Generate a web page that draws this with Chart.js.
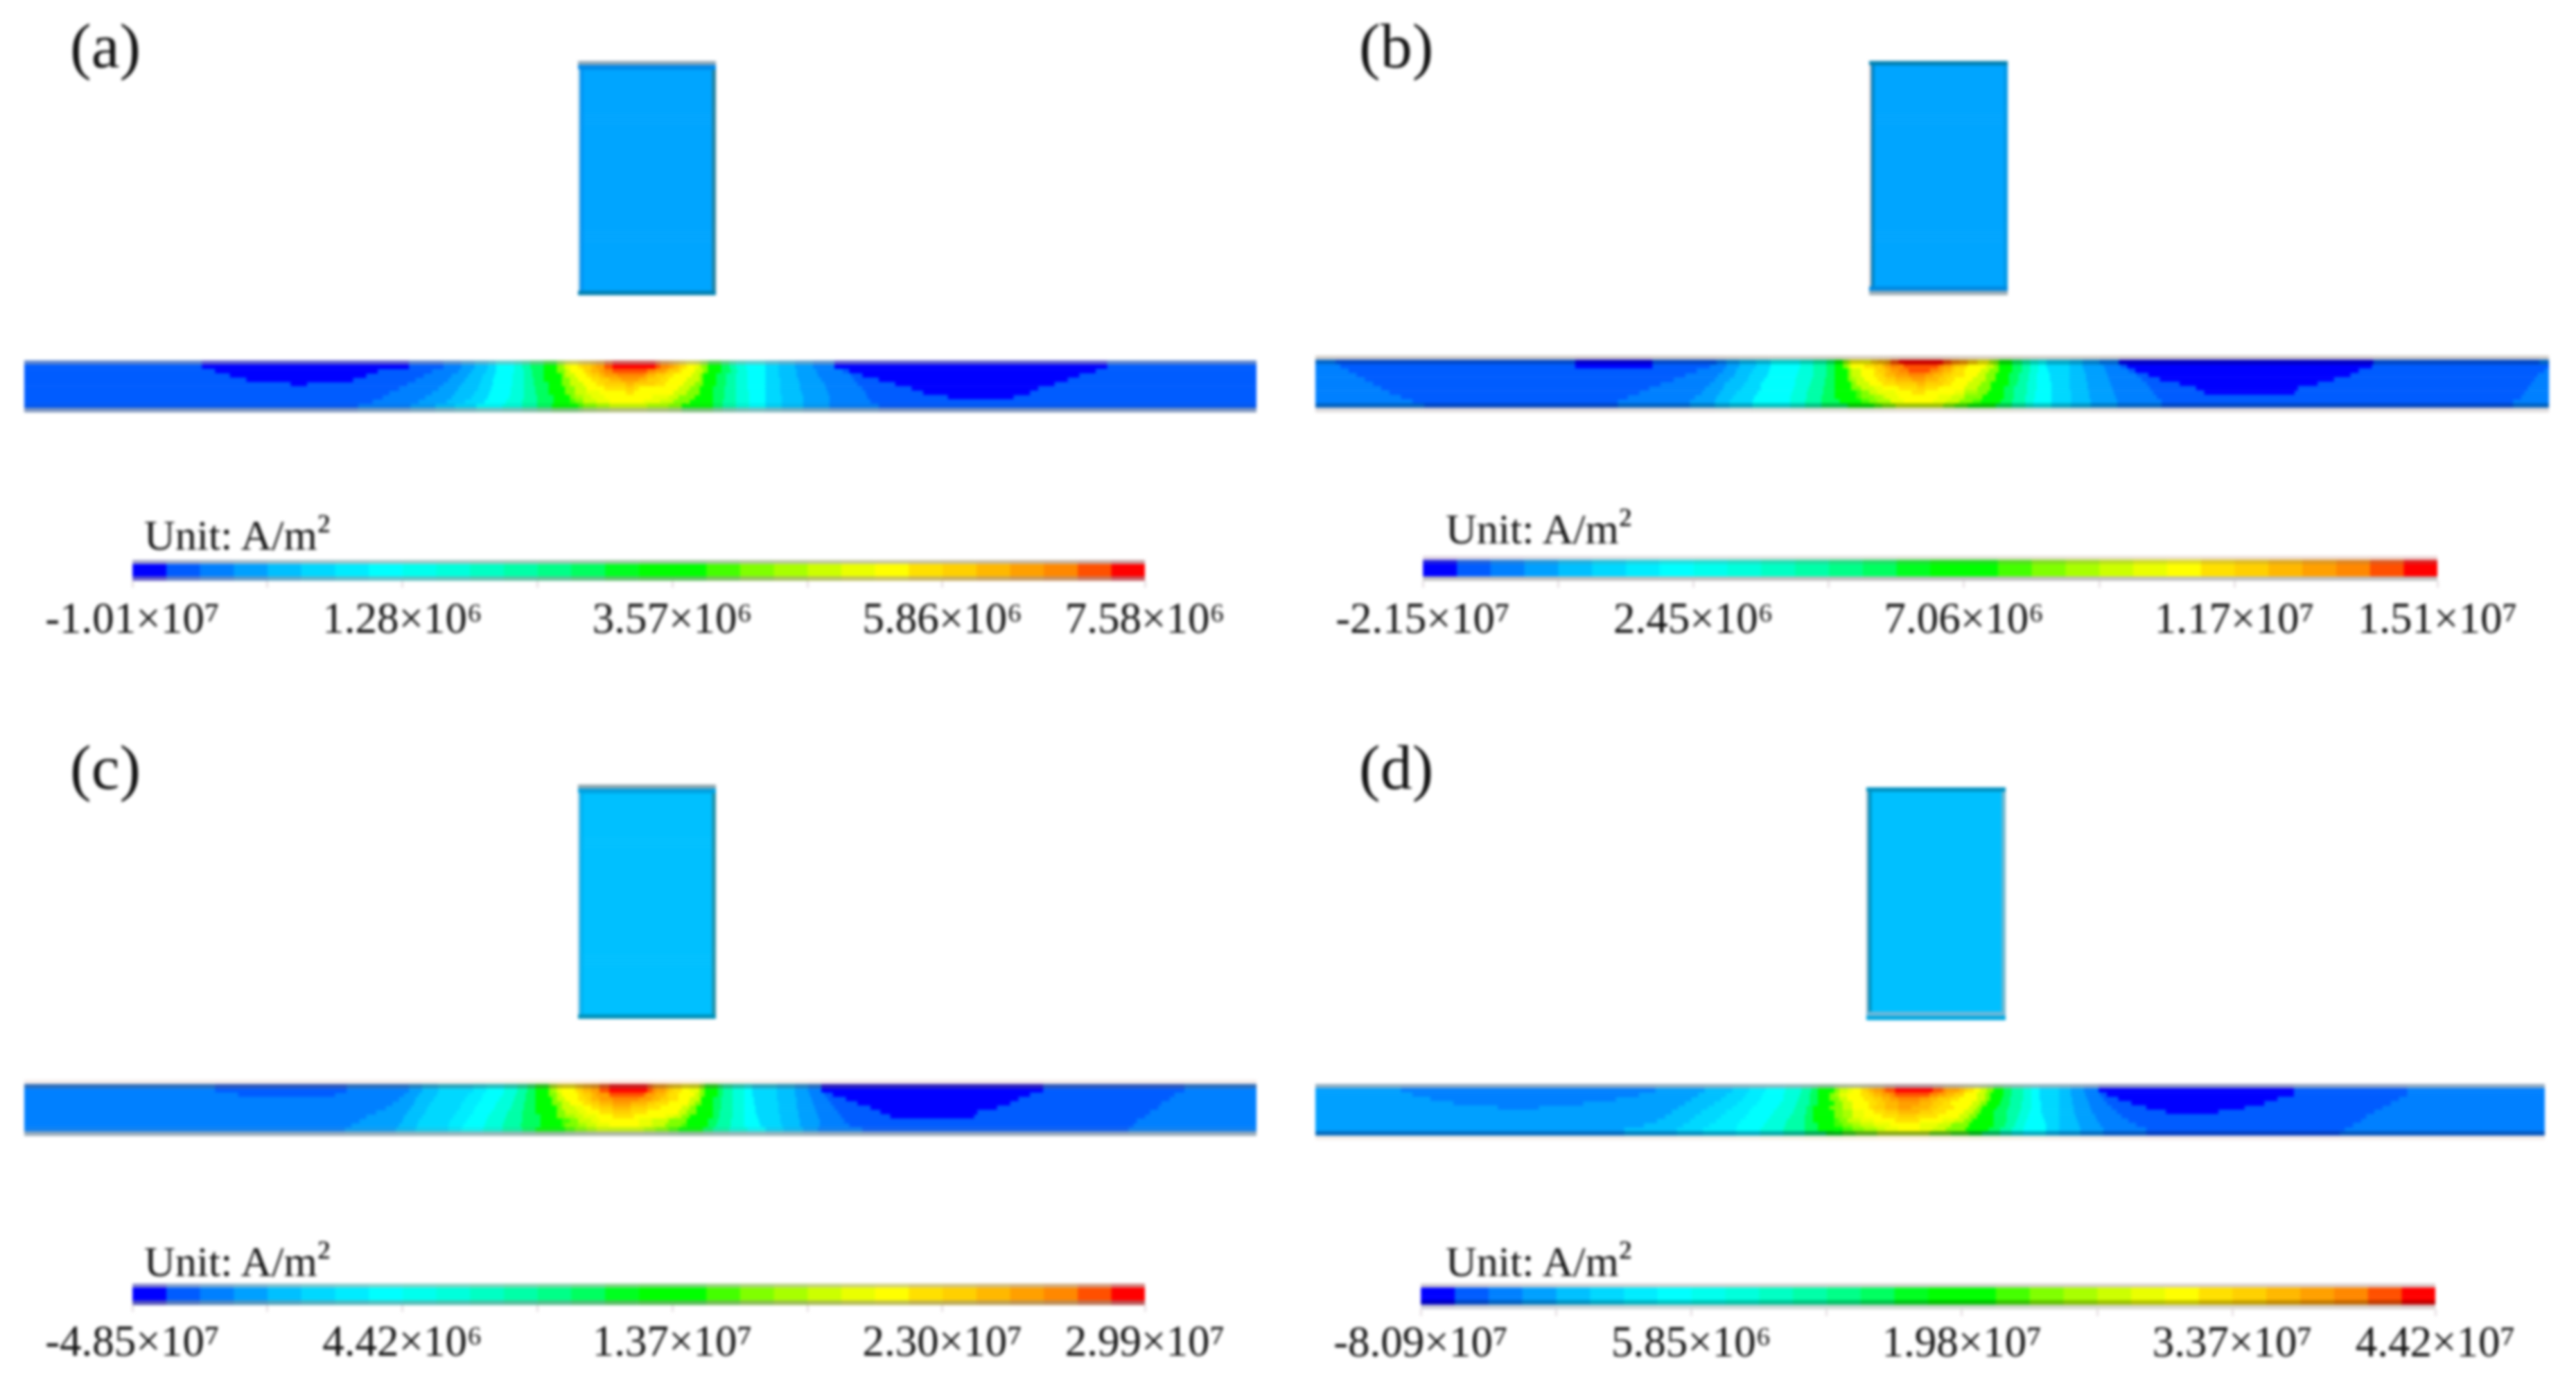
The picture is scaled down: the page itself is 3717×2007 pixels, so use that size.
<!DOCTYPE html>
<html><head><meta charset="utf-8">
<style>
html,body{margin:0;background:#fff;width:3717px;height:2007px;overflow:hidden}
#page{position:absolute;left:0;top:0;width:3717px;height:2007px;filter:blur(2px)}
canvas{position:absolute}
.t{position:absolute;font-family:"Liberation Serif",serif;color:#111;line-height:1;white-space:nowrap}
.t span{position:relative;top:-9px}
</style>
<script src="https://cdn.jsdelivr.net/npm/chart.js@4"></script>
</head><body><div id="page"></div>
<script>
// contour level colours, lowest to highest, as on the legend bars
const levelColors=['#0000ff','#005cff','#0080ff','#00a0ff','#00c0ff','#00d8ff','#00ecff','#00ffff','#00ffee','#00ffdc','#00ffc4','#00ffa8','#00ff88','#00ff60','#00ff20','#00ff00','#00ff00','#44ff00','#80ff00','#a8ff00','#ccff00','#eaff00','#ffff00','#ffe000','#ffd000','#ffb800','#ffa000','#ff8800','#ff5000','#ff0000'];
const legendLevels=[0,1,2,3,4,5,6,7,8,9,10,11,12,13,14,15,16,17,18,19,20,21,22,23,24,25,26,27,28,29];
const legendTicks=[0,4,8,12,16,20,24,30];
const legendLabelled=[0,8,16,24,30];
const labelsA=['-1.01×10⁷','1.28×10⁶','3.57×10⁶','5.86×10⁶','7.58×10⁶'];
const labelsB=['-2.15×10⁷','2.45×10⁶','7.06×10⁶','1.17×10⁷','1.51×10⁷'];
const labelsC=['-4.85×10⁷','4.42×10⁶','1.37×10⁷','2.30×10⁷','2.99×10⁷'];
const labelsD=['-8.09×10⁷','5.85×10⁶','1.98×10⁷','3.37×10⁷','4.42×10⁷'];
const panelNames=['(a)','(b)','(c)','(d)'];
const unitText='Unit: A/m';
const unitSup='²';

// plate rows: level, end of its run along the plate, level, end, ...
const a1=[1,108,0,234,1,255,2,266,3,274,4,282,5,287,7,298,9,303,11,308,13,316,15,324,18,327,19,329,21,332,22,337,23,340,24,345,25,348,26,353,28,358,29,384,28,387,27,392,26,395,25,398,24,400,23,403,22,408,21,411,19,413,18,416,15,424,13,429,11,433,9,439,7,451,5,459,4,469,3,480,2,493,0,659,1,750];
const a2=[1,116,0,215,1,248,2,264,3,272,4,281,5,287,7,298,9,304,11,309,13,316,15,324,18,329,20,332,22,340,23,342,24,345,25,350,26,353,27,358,28,379,27,384,26,390,25,392,24,398,23,400,22,408,20,413,18,416,15,424,13,430,11,434,9,440,7,451,5,459,4,470,3,482,2,498,1,502,0,652,1,750];
const a3=[1,125,0,208,1,243,2,260,3,270,4,279,5,286,7,297,9,304,11,309,13,316,15,327,18,329,20,335,22,342,23,345,24,350,25,353,26,361,27,377,26,379,25,384,24,390,23,395,22,406,20,411,18,413,15,421,13,427,11,433,9,440,7,451,5,459,4,470,3,483,2,503,1,510,0,642,1,750];
const a4=[1,135,0,200,1,238,2,258,3,268,4,278,5,285,7,297,9,304,11,310,13,316,15,327,18,332,20,337,22,345,23,350,24,356,25,363,26,374,25,379,24,387,23,392,22,403,20,411,18,413,15,421,13,427,11,433,9,440,7,451,5,460,4,471,3,485,2,505,1,520,0,635,1,750];
const a5=[1,162,0,172,1,233,2,255,3,266,4,277,5,285,7,297,9,304,11,310,13,319,15,327,18,332,20,340,22,348,23,353,24,366,25,371,24,384,23,390,22,401,20,408,18,413,15,421,13,427,11,433,9,440,7,451,5,460,4,472,3,487,2,507,1,530,0,627,1,750];
const a6=[1,228,2,252,3,264,4,276,5,284,7,296,9,304,11,311,13,319,15,329,18,335,20,342,22,353,23,366,24,371,23,374,22,398,20,405,18,411,15,419,13,426,11,433,9,440,7,451,5,460,4,472,3,488,2,510,1,540,0,617,1,750];
const a7=[1,222,2,248,3,262,4,274,5,283,7,296,9,304,11,311,13,319,15,329,18,335,20,342,21,350,22,366,23,371,22,395,20,403,18,411,15,419,13,426,11,433,9,441,7,451,5,460,4,473,3,489,2,512,1,547,0,612,1,750];
const a8=[1,218,2,244,3,260,4,272,5,282,7,295,9,304,11,312,13,322,15,332,18,335,19,340,20,345,21,353,22,382,21,392,20,398,18,408,15,419,13,426,11,433,9,441,7,451,5,461,4,474,3,490,2,513,1,562,0,602,1,750];
const a9=[1,212,2,240,3,257,4,268,5,280,7,293,9,303,11,312,13,322,15,332,17,335,18,340,20,348,21,356,22,377,21,387,20,395,18,405,15,419,13,425,11,433,9,441,7,451,5,461,4,474,3,490,2,515,1,750];
const a10=[1,203,2,235,3,250,4,262,5,275,7,291,9,303,11,312,13,321,15,335,16,337,17,340,18,348,19,356,20,379,19,392,18,400,16,403,15,419,13,425,11,433,9,441,7,451,5,461,4,474,3,490,2,520,1,750];

const b1=[2,12,1,158,0,205,1,244,2,250,3,258,4,268,5,277,7,295,9,303,11,311,13,316,15,321,18,324,20,326,22,338,24,342,25,347,26,350,28,355,29,382,28,387,27,392,26,397,24,403,22,410,19,413,18,416,15,424,13,430,11,435,9,440,7,445,5,459,4,467,3,477,2,489,0,644,1,745,2,751];
const b2=[2,15,1,158,0,205,1,240,2,250,3,258,4,268,5,277,7,295,9,303,11,311,13,316,15,321,18,324,20,326,22,334,23,340,24,345,25,347,26,350,27,358,28,379,27,382,26,387,25,389,24,395,23,397,22,408,20,413,18,416,15,424,13,430,11,435,9,440,7,445,5,459,4,467,3,480,2,490,1,494,0,643,1,751];
const b3=[2,20,1,232,2,248,3,256,4,266,5,276,7,294,9,303,11,311,13,316,15,324,18,326,20,332,22,340,23,342,24,347,25,350,26,355,27,361,28,374,27,379,26,382,25,387,24,389,23,395,22,405,20,410,18,416,15,424,13,430,11,435,9,440,7,446,5,459,4,468,3,481,2,495,1,499,0,635,1,748,2,751];
const b4=[2,25,1,225,2,245,3,255,4,264,5,275,7,293,9,303,11,311,13,316,15,324,18,326,20,332,22,340,23,345,24,347,25,353,26,361,27,371,26,376,25,382,24,387,23,395,22,403,20,408,18,414,15,422,13,428,11,434,9,439,7,447,5,459,4,469,3,482,2,500,1,507,0,630,1,744,2,751];
const b5=[2,30,1,218,2,243,3,252,4,263,5,273,7,292,9,302,11,310,13,316,15,324,18,326,19,329,20,334,22,342,23,347,24,353,25,363,26,371,25,379,24,384,23,389,22,400,20,408,18,414,15,422,13,428,11,434,9,439,7,447,5,459,4,469,3,483,2,503,1,514,0,620,1,742,2,751];
const b6=[2,35,1,210,2,240,3,249,4,261,5,271,7,292,9,301,11,310,13,316,15,326,18,329,20,337,22,345,23,353,24,366,25,371,24,382,23,387,22,397,20,405,18,411,15,422,13,427,11,433,9,439,7,448,5,459,4,470,3,484,2,506,1,526,0,610,1,740,2,751];
const b7=[2,40,1,203,2,237,3,248,4,259,5,271,7,291,9,300,11,309,13,316,15,326,18,332,20,340,21,345,22,355,23,366,24,371,23,379,22,395,20,403,18,411,15,419,13,425,11,433,9,439,7,448,5,459,4,470,3,485,2,508,1,536,0,598,1,738,2,751];
const b8=[2,45,1,197,2,235,3,246,4,256,5,269,7,290,9,299,11,309,13,316,15,329,17,332,18,337,20,342,21,353,22,363,23,371,22,389,21,395,19,403,18,409,15,419,13,425,11,433,9,438,7,448,5,460,4,471,3,486,2,510,1,541,0,596,1,736,2,751];
const b9=[2,52,1,190,2,231,3,244,4,254,5,267,7,289,9,299,11,308,13,316,15,329,17,332,18,340,19,345,20,347,21,355,22,379,21,387,20,395,18,406,15,419,13,425,11,432,9,438,7,448,5,460,4,471,3,487,2,512,1,734,2,751];
const b10=[2,59,1,184,2,228,3,243,4,252,5,266,7,289,9,298,11,308,13,319,15,329,16,332,17,337,18,342,19,350,21,358,22,376,21,384,20,392,18,400,17,405,15,417,13,424,11,432,9,437,7,448,5,460,4,472,3,488,2,515,1,729,2,751];
const b11=[2,66,1,184,2,228,3,243,4,252,5,266,7,289,9,298,11,308,13,324,15,332,16,340,17,345,18,353,20,382,18,389,17,397,16,403,15,414,13,424,11,432,9,437,7,448,5,460,4,472,3,488,2,515,1,729,2,751];

const c2=[2,116,1,196,2,234,3,242,4,252,5,273,6,281,7,292,9,300,11,306,13,311,15,319,18,321,19,324,21,327,22,335,23,337,24,340,25,345,26,350,28,356,29,379,28,382,27,384,26,390,25,392,24,395,23,400,22,405,21,411,18,414,15,422,13,425,11,431,9,438,7,443,5,458,4,469,3,477,2,485,0,620,1,706,2,750];
const c3=[2,130,1,189,2,231,3,240,4,251,5,270,6,279,7,291,9,299,11,305,13,311,15,319,18,324,20,327,22,337,23,340,24,345,25,348,26,356,28,377,27,379,26,384,25,390,24,392,23,398,22,408,20,411,18,414,15,422,13,425,11,431,9,438,7,443,5,458,4,469,3,478,2,487,1,492,0,612,1,700,2,750];
const c4=[2,228,3,238,4,249,5,268,6,278,7,289,9,298,11,305,13,311,15,321,18,324,20,329,22,337,23,342,24,345,25,350,26,358,27,374,26,382,25,387,24,392,23,398,22,405,20,411,18,412,15,419,13,424,11,431,9,438,7,444,5,458,4,470,3,479,2,489,1,500,0,605,1,697,2,750];
const c5=[2,224,3,237,4,247,5,266,6,276,7,287,9,297,11,304,13,311,15,321,18,327,20,332,22,340,23,345,24,350,25,358,26,369,25,379,24,384,23,392,22,404,20,408,18,412,15,419,13,424,11,431,9,438,7,444,5,459,4,470,3,480,2,491,1,507,0,600,1,692,2,750];
const c6=[2,220,3,235,4,245,5,265,6,274,7,286,9,296,11,304,13,311,15,324,18,327,20,335,21,340,22,345,23,350,24,358,25,369,24,379,23,387,22,400,20,405,18,409,15,419,13,424,11,431,9,438,7,445,5,459,4,470,3,481,2,493,1,515,0,592,1,690,2,750];
const c7=[2,214,3,233,4,244,5,263,6,273,7,284,9,294,11,303,13,311,15,324,18,329,20,337,21,342,22,350,23,358,24,369,23,379,22,398,20,403,18,409,15,419,13,423,11,431,9,438,7,445,5,459,4,471,3,482,2,495,1,521,0,580,1,685,2,750];
const c8=[2,208,3,231,4,242,5,261,6,271,7,282,9,293,11,303,13,314,15,324,18,329,19,335,20,340,21,348,22,358,23,371,22,390,21,395,20,400,18,405,15,419,13,423,11,431,9,438,7,446,5,460,4,471,3,483,2,497,1,527,0,578,1,682,2,750];
const c9=[2,204,3,230,4,240,5,259,6,269,7,281,9,292,11,303,13,314,15,327,17,332,18,337,20,345,21,350,22,374,21,382,20,392,18,403,15,416,13,422,11,430,9,438,7,447,5,460,4,472,3,484,2,499,1,677,2,750];
const c10=[2,199,3,228,4,239,5,258,6,267,7,280,9,291,11,302,13,314,15,327,17,329,18,337,19,342,20,348,21,356,22,374,21,382,20,390,18,400,17,403,15,416,13,421,11,430,9,438,7,448,5,461,4,472,3,484,2,502,1,675,2,750];
const c11=[2,195,3,226,4,238,5,258,6,266,7,279,9,291,11,303,13,311,15,327,16,329,17,335,18,342,19,348,20,377,19,384,18,392,17,398,15,413,13,419,11,429,9,440,7,451,5,462,4,474,3,483,2,510,1,672,2,750];

const d1=[3,52,2,207,3,237,4,254,5,264,6,274,7,286,9,296,11,302,13,306,15,316,18,319,20,324,21,327,22,332,23,334,24,337,25,340,26,345,27,347,28,353,29,376,28,382,27,384,26,392,25,395,24,397,23,401,22,405,20,409,18,413,15,419,13,424,11,431,9,436,7,441,5,453,4,460,3,468,2,477,0,596,1,665,2,749];
const d2=[3,59,2,197,3,233,4,250,5,262,6,272,7,285,9,295,11,301,13,306,15,313,18,316,19,319,21,324,22,332,23,337,24,340,25,345,26,350,27,353,28,374,27,379,26,384,25,389,24,395,22,403,20,408,18,411,15,419,13,424,11,431,9,436,7,441,5,453,4,460,3,469,2,478,1,482,0,596,1,665,2,749];
const d3=[3,70,2,183,3,229,4,247,5,260,6,271,7,285,9,294,11,301,13,306,15,313,18,319,20,324,22,334,23,340,24,345,25,350,26,355,27,368,26,374,25,379,24,387,23,392,22,403,20,408,18,411,15,418,13,423,11,431,9,436,7,441,5,453,4,461,3,470,2,480,1,489,0,586,1,660,2,749];
const d4=[3,84,2,163,3,225,4,243,5,257,6,269,7,283,9,293,11,301,13,306,15,316,18,321,20,327,22,337,23,342,24,347,25,355,26,368,25,376,24,382,23,387,22,400,20,405,18,409,15,417,13,423,11,430,9,436,7,442,5,453,4,461,3,471,2,482,1,497,0,578,1,655,2,749];
const d5=[3,111,2,136,3,221,4,239,5,254,6,266,7,281,9,292,11,299,13,303,15,313,18,321,20,327,22,337,23,340,24,347,25,355,26,363,25,374,24,379,23,389,22,398,20,403,18,406,15,415,13,422,11,430,9,436,7,442,5,453,4,462,3,472,2,485,1,506,0,566,1,650,2,749];
const d6=[3,217,4,235,5,250,6,264,7,279,9,291,11,299,13,303,15,316,18,321,19,327,21,334,22,340,23,347,24,355,25,368,24,376,23,384,22,395,20,401,18,405,15,413,13,421,11,429,9,435,7,442,5,453,4,462,3,473,2,488,1,518,0,550,1,645,2,749];
const d7=[3,213,4,231,5,247,6,262,7,277,9,289,11,298,13,303,15,316,18,321,19,327,21,334,22,345,23,355,24,366,23,379,22,392,20,398,18,403,15,413,13,421,11,428,9,434,7,443,5,453,4,463,3,475,2,491,1,640,2,749];
const d8=[3,208,4,228,5,244,6,259,7,275,9,287,11,298,13,303,15,316,17,319,18,324,20,332,21,340,22,353,23,368,22,382,21,389,20,395,18,400,15,413,13,421,11,427,9,433,7,444,5,453,4,464,3,476,2,495,1,637,2,749];
const d9=[3,200,4,224,5,240,6,257,7,273,9,286,11,298,13,306,15,316,17,321,18,327,19,332,20,340,21,350,22,368,21,379,20,387,18,398,15,413,13,420,11,426,9,432,7,445,5,453,4,465,3,478,2,500,1,632,2,749];
const d10=[3,188,4,220,5,236,6,256,7,271,9,285,11,298,13,306,15,319,16,321,17,327,18,334,19,342,20,347,21,355,22,368,21,376,20,384,18,396,15,410,13,417,11,424,9,431,7,445,5,453,4,466,3,480,2,506,1,627,2,749];
const d11=[3,188,4,220,5,236,6,256,7,271,9,285,11,298,13,311,15,316,16,321,17,329,18,342,20,374,18,387,17,398,16,401,15,406,13,417,11,424,9,431,7,445,5,453,4,466,3,480,2,506,1,624,2,749];

const rowsA=[a1,a1,a2,a3,a4,a5,a6,a7,a8,a9,a10,a10];
const rowsB=[b1,b1,b2,b3,b4,b5,b6,b7,b8,b9,b10,b11,b11];
const rowsC=[c2,c2,c2,c3,c4,c5,c6,c7,c8,c9,c10,c11,c11];
const rowsD=[d1,d1,d2,d3,d4,d5,d6,d7,d8,d9,d10,d11,d11];

// edge shading of the rows (row index, mix colour, amount)
const shadeA=[[0,'#a7a7a7',.55],[10,'#000000',.06],[11,'#aaaaaa',.75]];
const shadeB=[[0,'#d8d0c8',.97],[1,'#000000',.22],[11,'#000000',.25],[12,'#e8e0dc',.97]];
const shadeC=[[0,'#fff2ea',.96],[1,'#705050',.4],[11,'#808080',.12],[12,'#a8b0b4',.9]];
const shadeD=[[0,'#a8b0b8',.85],[11,'#000040',.35],[12,'#fff2ea',.96]];
const legendShadeA=[[0,'#bebebe',.84],[4,'#a398a3',.6]];
const legendShadeB=[[0,'#ece0e0',.95],[1,'#808080',.25],[5,'#c0c0c0',1]];
const legendShadeC=[[0,'#c0c0b8',.7],[4,'#909090',.6]];
const legendShadeD=[[0,'#d8d0d0',.95],[4,'#000000',.25],[5,'#d8d8d8',.95]];

// conductor bars: colours of body, upper row, outer upper row, lower row, left edge, right edge, inner left edge
const conductorColorsA=['#00a5ff','#0088e8','#90a8b8','#0080b0','#b8d8e8','#2080a0','#0090f0'];
const conductorColorsB=['#00a5ff','#0080b0','#a0b0b8','#0088e0','#e0d0d0','#0098e8','#0080c0'];
const conductorColorsC=['#00c0ff','#00a0e0','#90a8b0','#0090b8','#90c8e0','#2090a8','#00b0f0'];
const conductorColorsD=['#00c0ff','#0090c0','#70b8d8','#00a8e0','#90b8c8','#70b8d0','#0090c0'];
const conductorBody=[4,1,6,3,0,81.5,5,84];
const conductorTop=[1,84];
const conductorOuter=[2,84];
const conductorBottom=[3,84];
const repeat=(n,row)=>Array.from({length:n},()=>row);
const conductorA=[conductorOuter,conductorTop,...repeat(53,conductorBody),conductorBottom];
const conductorB=[conductorTop,...repeat(53,conductorBody),conductorBottom,conductorOuter];
const conductorC=[conductorOuter,conductorTop,...repeat(53,conductorBody),conductorBottom];
const conductorD=[conductorTop,...repeat(53,conductorBody),conductorOuter,conductorBottom];

const legendRow=legendLevels.flatMap((l,i)=>[l,i+1]);

// page layout
const layoutA={plate:[35,520,1778,75,750],cond:[834,88,199,338],legend:[191,808,1461,30,5,11],unit:[208,793],name:[101,97]};
const layoutB={plate:[1898,513,1780,82,751],cond:[2697,88,200,338],legend:[2053,802,1464,36,6,11],unit:[2086,784],name:[1961,97]};
const layoutC={plate:[35,1558,1778,81,750],cond:[834,1132,199,338],legend:[191,1852,1461,31,5,9],unit:[208,1841],name:[101,1138]};
const layoutD={plate:[1898,1564,1774,81,749],cond:[2693,1136,201,336],legend:[2050,1852,1464,37,6,4],unit:[2086,1841],name:[1961,1138]};

const FONT='"Liberation Serif", serif';
const page=document.getElementById('page');
const rgb=h=>[1,3,5].map(i=>parseInt(h.substr(i,2),16));
function shade(hex,s){
  if(!s) return hex;
  const a=rgb(hex),m=rgb(s[1]);
  return 'rgb('+a.map((v,i)=>Math.round(v*(1-s[2])+m[i]*s[2])).join(',')+')';
}
function stackedRows(box,rows,shades,palette,maxX,axis){
  const c=document.createElement('canvas');
  c.width=box.w;c.height=box.h;
  c.style.left=box.x+'px';c.style.top=box.y+'px';
  page.appendChild(c);
  const n=Math.max(...rows.map(r=>r.length/2));
  const datasets=[];
  for(let j=0;j<n;j++){
    datasets.push({
      data:rows.map(r=>j*2<r.length?r[2*j+1]-(j?r[2*j-1]:0):null),
      backgroundColor:rows.map((r,i)=>j*2<r.length?shade(palette[r[2*j]],shades.find(s=>s[0]===i)):'rgba(0,0,0,0)'),
      borderWidth:0,barPercentage:1,categoryPercentage:1
    });
  }
  new Chart(c,{type:'bar',data:{labels:rows.map((_,i)=>i),datasets},options:{
    indexAxis:'y',responsive:false,maintainAspectRatio:false,animation:false,devicePixelRatio:1,events:[],
    layout:{padding:box.pad||0},
    plugins:{legend:{display:false},tooltip:{enabled:false},title:{display:false}},
    scales:{
      y:{stacked:true,display:false},
      x:Object.assign({stacked:true,min:0,max:maxX,display:false},axis||{})
    }
  }});
}
function text(str,sup,x,baseline,size){
  const e=document.createElement('div');
  e.className='t';e.textContent=str;
  if(sup){const s=document.createElement('span');s.textContent=sup;e.appendChild(s);}
  e.style.left=x+'px';e.style.top=(baseline-.8375*size)+'px';e.style.fontSize=size+'px';
  page.appendChild(e);
}
const AXIS_H=90,PAD_L=200,PAD_R=130;
function panel(i,L,rows,shades,cond,condColors,legendShade,labels){
  const [px,py,pw,ph,pmax]=L.plate;
  stackedRows({x:px,y:py,w:pw,h:ph},rows,shades,levelColors,pmax);
  const [cx,cy,cw,ch]=L.cond;
  stackedRows({x:cx,y:cy,w:cw,h:ch},cond,[],condColors,84);
  const [lx,ly,lw,lh,ln,lpad]=L.legend;
  stackedRows({x:lx-PAD_L,y:ly,w:lw+PAD_L+PAD_R,h:lh+AXIS_H,pad:{left:PAD_L,right:PAD_R,top:0,bottom:0}},
    repeat(ln,legendRow),legendShade,levelColors,30,{
      display:true,
      border:{display:false},
      grid:{drawOnChartArea:false,drawTicks:true,tickLength:10,tickWidth:3,color:'#e6dfe3'},
      afterBuildTicks(s){s.ticks=legendTicks.map(v=>({value:v}));},
      afterFit(s){s.height=AXIS_H;},
      ticks:{autoSkip:false,maxRotation:0,minRotation:0,padding:lpad,color:'#111',font:{family:FONT,size:63},
        callback(v){const k=legendLabelled.indexOf(v);return k<0?'':labels[k];}}
    });
  text(unitText,unitSup,L.unit[0],L.unit[1],62);
  text(panelNames[i],null,L.name[0],L.name[1],92);
}
panel(0,layoutA,rowsA,shadeA,conductorA,conductorColorsA,legendShadeA,labelsA);
panel(1,layoutB,rowsB,shadeB,conductorB,conductorColorsB,legendShadeB,labelsB);
panel(2,layoutC,rowsC,shadeC,conductorC,conductorColorsC,legendShadeC,labelsC);
panel(3,layoutD,rowsD,shadeD,conductorD,conductorColorsD,legendShadeD,labelsD);
</script></body></html>
